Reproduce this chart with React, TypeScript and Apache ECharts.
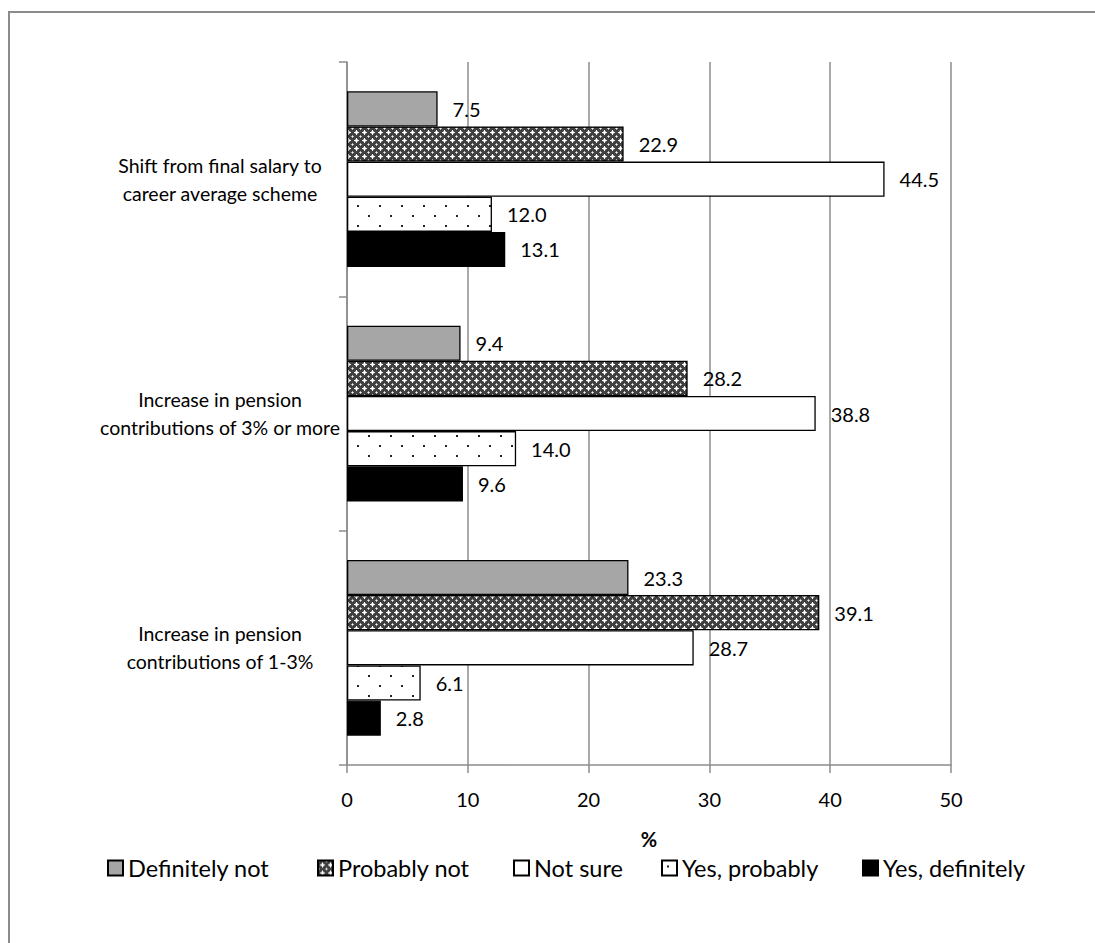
import React, { useEffect, useRef } from "react";
import * as echarts from "echarts";

const categories = [
  "Shift from final salary to\ncareer average scheme",
  "Increase in pension\ncontributions of 3% or more",
  "Increase in pension\ncontributions of 1-3%",
];
const seriesNames = ["Definitely not", "Probably not", "Not sure", "Yes, probably", "Yes, definitely"];
const definitelyNot = [7.5, 9.4, 23.3];
const probablyNot = [22.9, 28.2, 39.1];
const notSure = [44.5, 38.8, 28.7];
const yesProbably = [12.0, 14.0, 6.1];
const yesDefinitely = [13.1, 9.6, 2.8];
const xTicks = [0, 10, 20, 30, 40, 50];

const FONT = "Lato, 'Noto Sans', sans-serif";
const FS = 20;
const LEGEND_FS = 23.5;
const legendLefts = [102, 312, 508, 656, 857];

function makeCrossPattern() {
  const w = 8, h = 8;
  const c = document.createElement("canvas");
  c.width = w; c.height = h;
  const ctx = c.getContext("2d")!;
  ctx.fillStyle = "#404040";
  ctx.fillRect(0, 0, w, h);
  ctx.fillStyle = "#ffffff";
  const pts = [[4, 2], [4, 3], [4, 4], [4, 5], [4, 6], [2, 4], [3, 4], [5, 4], [6, 4], [0, 0]];
  pts.forEach(([x, y]) => ctx.fillRect(x, y, 1, 1));
  ctx.fillStyle = "#b0b0b0";
  [[3, 3], [5, 3], [3, 5], [5, 5], [1, 0], [0, 1], [7, 0], [0, 7]].forEach(([x, y]) => ctx.fillRect(x, y, 1, 1));
  return { image: c.toDataURL(), repeat: "repeat", imageWidth: w, imageHeight: h };
}

function makeDotPattern() {
  const w = 22, h = 20;
  const c = document.createElement("canvas");
  c.width = w; c.height = h;
  const ctx = c.getContext("2d")!;
  ctx.fillStyle = "#ffffff";
  ctx.fillRect(0, 0, w, h);
  ctx.fillStyle = "#222222";
  ctx.fillRect(5, 5, 2, 2);
  ctx.fillRect(16, 15, 2, 2);
  return { image: c.toDataURL(), repeat: "repeat", imageWidth: w, imageHeight: h };
}

export default function App() {
  const ref = useRef<HTMLDivElement>(null);
  useEffect(() => {
    if (!ref.current) return;
    const chart = echarts.init(ref.current, undefined, { renderer: "svg" });
    const cross = makeCrossPattern();
    const dots = makeDotPattern();
    const fills: any[] = ["#a6a6a6", cross, "#ffffff", dots, "#000000"];
    const datas = [definitelyNot, probablyNot, notSure, yesProbably, yesDefinitely];
    const series = seriesNames.map((name, i) => ({
      name,
      type: "bar",
      data: datas[i],
      barGap: "0%",
      barCategoryGap: "25%",
      itemStyle: { color: fills[i], borderColor: "#000", borderWidth: 1.3 },
      label: {
        show: true,
        position: "right",
        distance: 15,
        color: "#000",
        fontFamily: FONT,
        fontSize: FS,
        formatter: (p: any) => Number(p.value).toFixed(1),
      },
    }));
    const legends = seriesNames.map((name, i) => ({
      data: [name],
      left: legendLefts[i],
      top: 851,
      itemWidth: 15,
      itemHeight: 15,
      icon: "rect",
      selectedMode: false,
      textStyle: { color: "#000", fontSize: LEGEND_FS, fontFamily: FONT },
    }));
    chart.setOption({
      animation: false,
      backgroundColor: "#fff",
      textStyle: { fontFamily: FONT },
      graphic: [
        {
          type: "rect",
          shape: { x: 9, y: 12, width: 1200, height: 1000 },
          style: { fill: "none", stroke: "#8c8c8c", lineWidth: 2 },
          silent: true,
        },
      ],
      legend: legends,
      grid: { left: 347, right: 144, top: 62, bottom: 178, containLabel: false },
      xAxis: {
        type: "value",
        min: xTicks[0],
        max: xTicks[xTicks.length - 1],
        interval: 10,
        name: "%",
        nameLocation: "middle",
        nameGap: 64,
        nameTextStyle: { color: "#000", fontSize: FS, fontWeight: "bold", fontFamily: FONT },
        axisLine: { show: true, lineStyle: { color: "#8c8c8c", width: 1.5 } },
        axisTick: { show: true, length: 8, lineStyle: { color: "#8c8c8c", width: 1.5 } },
        axisLabel: { color: "#000", fontSize: FS, margin: 24, fontFamily: FONT },
        splitLine: { show: true, lineStyle: { color: "#8c8c8c", width: 1.5 } },
      },
      yAxis: {
        type: "category",
        data: categories,
        inverse: true,
        axisLine: { show: true, lineStyle: { color: "#8c8c8c", width: 1.5 } },
        axisTick: { show: true, length: 8, lineStyle: { color: "#8c8c8c", width: 1.5 } },
        axisLabel: {
          color: "#000",
          fontSize: 19.5,
          fontFamily: FONT,
          align: "center",
          margin: 127,
          lineHeight: 28,
        },
        splitLine: { show: false },
      },
      series,
    });
    return () => chart.dispose();
  }, []);
  return (
    <div
      ref={ref}
      style={{ position: "absolute", left: 0, top: 0, width: 1095, height: 943 }}
    />
  );
}
